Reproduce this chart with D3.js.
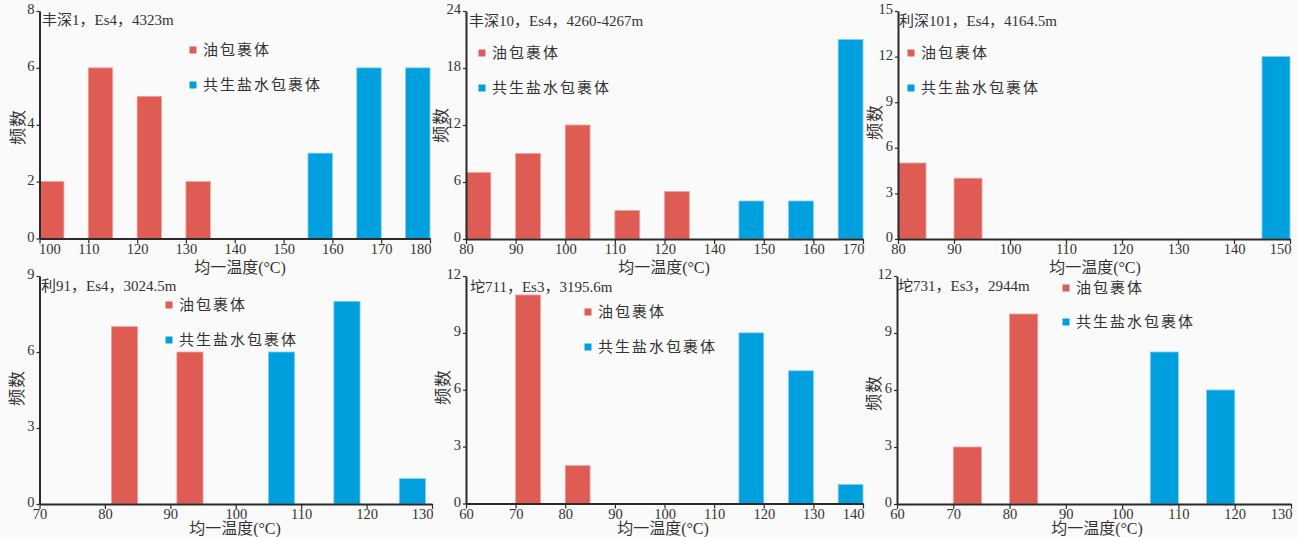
<!DOCTYPE html>
<html>
<head>
<meta charset="utf-8">
<script src="https://cdn.jsdelivr.net/npm/d3@7"></script>
<style>
  html, body { margin: 0; padding: 0; background: #fafafa; }
  svg { display: block; }
</style>
</head>
<body>
<svg id="chart" width="1298" height="537"></svg>
<script>
// ---------- data ----------
const titles = ["丰深1，Es4，4323m", "丰深10，Es4，4260-4267m", "利深101，Es4，4164.5m",
                "利91，Es4，3024.5m", "坨711，Es3，3195.6m", "坨731，Es3，2944m"];
const legendLabels = ["油包裹体", "共生盐水包裹体"];
const xAxisTitle = "均一温度(°C)";
const yAxisTitle = "频数";

const xTicks1 = [100, 110, 120, 130, 140, 150, 160, 170, 180];
const yTicks1 = [0, 2, 4, 6, 8];
const oilStart1 = [100, 110, 120, 130];
const oilCount1 = [2, 6, 5, 2];
const brineStart1 = [155, 165, 175];
const brineCount1 = [3, 6, 6];

const xTicks2 = [80, 90, 100, 110, 120, 140, 150, 160, 170];
const yTicks2 = [0, 6, 12, 18, 24];
const oilStart2 = [80, 90, 100, 110, 120];
const oilCount2 = [7, 9, 12, 3, 5];
const brineStart2 = [145, 155, 165];
const brineCount2 = [4, 4, 21];

const xTicks3 = [80, 90, 100, 110, 120, 130, 140, 150];
const yTicks3 = [0, 3, 6, 9, 12, 15];
const oilStart3 = [80, 90];
const oilCount3 = [5, 4];
const brineStart3 = [145];
const brineCount3 = [12];

const xTicks4 = [70, 80, 90, 100, 110, 120, 130];
const yTicks4 = [0, 3, 6, 9];
const oilStart4 = [81, 91];
const oilCount4 = [7, 6];
const brineStart4 = [105, 115, 125];
const brineCount4 = [6, 8, 1];

const xTicks5 = [60, 70, 80, 90, 100, 110, 120, 130, 140];
const yTicks5 = [0, 3, 6, 9, 12];
const oilStart5 = [70, 80];
const oilCount5 = [11, 2];
const brineStart5 = [115, 125, 135];
const brineCount5 = [9, 7, 1];

const xTicks6 = [60, 70, 80, 90, 100, 110, 120, 130];
const yTicks6 = [0, 3, 6, 9, 12];
const oilStart6 = [70, 80];
const oilCount6 = [3, 10];
const brineStart6 = [105, 115];
const brineCount6 = [8, 6];

const binWidths = [5, 5, 5, 4, 5, 5];
const tickStep = 10;

// ---------- layout ----------
const layout = [
  { x0: 39.5, x1: 430, yTop: 11, yBase: 238.5, ylab: [18, 127], xlab: [240, 273], title: [42, 25], leg: [193, 50, 85] },
  { x0: 466, x1: 863, yTop: 11, yBase: 239, ylab: [441, 125], xlab: [664, 273], title: [469, 26], leg: [482, 53, 88] },
  { x0: 898, x1: 1290, yTop: 11, yBase: 239, ylab: [875, 122], xlab: [1095, 273], title: [899, 26], leg: [911, 53, 88] },
  { x0: 39.5, x1: 432, yTop: 276, yBase: 504, ylab: [17, 388], xlab: [235, 533.5], title: [41, 291], leg: [169, 305, 340] },
  { x0: 466, x1: 863, yTop: 276, yBase: 503.5, ylab: [443, 387], xlab: [663, 533.5], title: [470, 292], leg: [588, 312, 347] },
  { x0: 897, x1: 1291, yTop: 276, yBase: 504, ylab: [874, 393], xlab: [1097, 533.5], title: [898, 291], leg: [1066, 288, 322] }
];

const panels = [
  [xTicks1, yTicks1, oilStart1, oilCount1, brineStart1, brineCount1],
  [xTicks2, yTicks2, oilStart2, oilCount2, brineStart2, brineCount2],
  [xTicks3, yTicks3, oilStart3, oilCount3, brineStart3, brineCount3],
  [xTicks4, yTicks4, oilStart4, oilCount4, brineStart4, brineCount4],
  [xTicks5, yTicks5, oilStart5, oilCount5, brineStart5, brineCount5],
  [xTicks6, yTicks6, oilStart6, oilCount6, brineStart6, brineCount6]
];

const RED = "#df5c54", RED_EDGE = "#eea39e";
const BLUE = "#00a0de", BLUE_EDGE = "#7fcdef";
const AXIS = "#2a2a2a";
const SERIF = "'Liberation Serif', 'Noto Sans CJK SC', serif";
const CJK = "'Noto Sans CJK SC', sans-serif";

const svg = d3.select("#chart");
svg.append("rect").attr("width", 1298).attr("height", 537).attr("fill", "#fafafa");

panels.forEach((p, i) => {
  const [xt, yt, os, oc, bs, bc] = p;
  const L = layout[i];
  const bw = binWidths[i];
  const g = svg.append("g");

  // polylinear x scale: tick labels evenly spaced (panel 2 skips 130)
  const x = d3.scaleLinear()
    .domain(xt)
    .range(xt.map((_, k) => L.x0 + k * (L.x1 - L.x0) / (xt.length - 1)));
  const pxPerUnit = (L.x1 - L.x0) / ((xt.length - 1) * tickStep);
  const y = d3.scaleLinear().domain([0, yt[yt.length - 1]]).range([L.yBase, L.yTop]);

  const drawBars = (starts, counts, fill, edge) => {
    g.selectAll(null).data(starts.map((s, k) => ({ s, c: counts[k] }))).enter()
      .append("rect")
      .attr("x", d => x(d.s))
      .attr("width", bw * pxPerUnit)
      .attr("y", d => y(d.c))
      .attr("height", d => y(0) - y(d.c))
      .attr("fill", fill)
      .attr("stroke", edge)
      .attr("stroke-width", 0.8);
  };
  drawBars(os, oc, RED, RED_EDGE);
  drawBars(bs, bc, BLUE, BLUE_EDGE);

  // axes
  const xAxis = g.append("g").attr("transform", `translate(0,${L.yBase})`)
    .call(d3.axisBottom(x).tickValues(xt).tickFormat(d3.format("d")).tickSize(5).tickSizeOuter(0).tickPadding(0));
  const yAxis = g.append("g").attr("transform", `translate(${L.x0},0)`)
    .call(d3.axisLeft(y).tickValues(yt).tickFormat(d3.format("d")).tickSize(3).tickSizeOuter(0).tickPadding(2));
  [xAxis, yAxis].forEach(a => {
    a.select(".domain").attr("stroke", AXIS).attr("stroke-width", 2);
    a.selectAll(".tick line").attr("stroke", AXIS).attr("stroke-width", 1.2);
    a.selectAll(".tick text").attr("fill", "#333").style("font-family", SERIF).style("font-size", "14.5px");
  });
  yAxis.selectAll(".tick text").attr("dy", "0.2em");
  // end labels sit inside the axis span
  const xLabels = xAxis.selectAll(".tick text");
  xLabels.filter((d, k) => k === xt.length - 1).attr("text-anchor", "end").attr("dx", "1px");
  xLabels.filter((d, k) => k === 0 && String(d).length > 2).attr("text-anchor", "start").attr("dx", "-1px");

  // title
  g.append("text").attr("x", L.title[0]).attr("y", L.title[1])
    .attr("fill", "#333").style("font-family", SERIF).style("font-size", "15px")
    .text(titles[i]);

  // axis titles
  g.append("text")
    .attr("transform", `translate(${L.ylab[0]},${L.ylab[1]}) rotate(-90)`)
    .attr("text-anchor", "middle").attr("dy", "0.35em")
    .attr("fill", "#333").style("font-family", CJK).style("font-size", "17px")
    .style("letter-spacing", "1px")
    .text(yAxisTitle);
  g.append("text").attr("x", L.xlab[0]).attr("y", L.xlab[1])
    .attr("text-anchor", "middle")
    .attr("fill", "#333").style("font-family", SERIF).style("font-size", "16px")
    .text(xAxisTitle);

  // legend
  const legColors = [RED, BLUE];
  legendLabels.forEach((lab, k) => {
    const cy = L.leg[1 + k];
    g.append("rect").attr("x", L.leg[0] - 3.5).attr("y", cy - 3.5).attr("width", 7).attr("height", 7)
      .attr("fill", legColors[k]);
    g.append("text").attr("x", L.leg[0] + 10).attr("y", cy).attr("dy", "0.35em")
      .attr("fill", "#333").style("font-family", CJK).style("font-size", "15px")
      .style("letter-spacing", "2px")
      .text(lab);
  });
});
</script>
</body>
</html>
